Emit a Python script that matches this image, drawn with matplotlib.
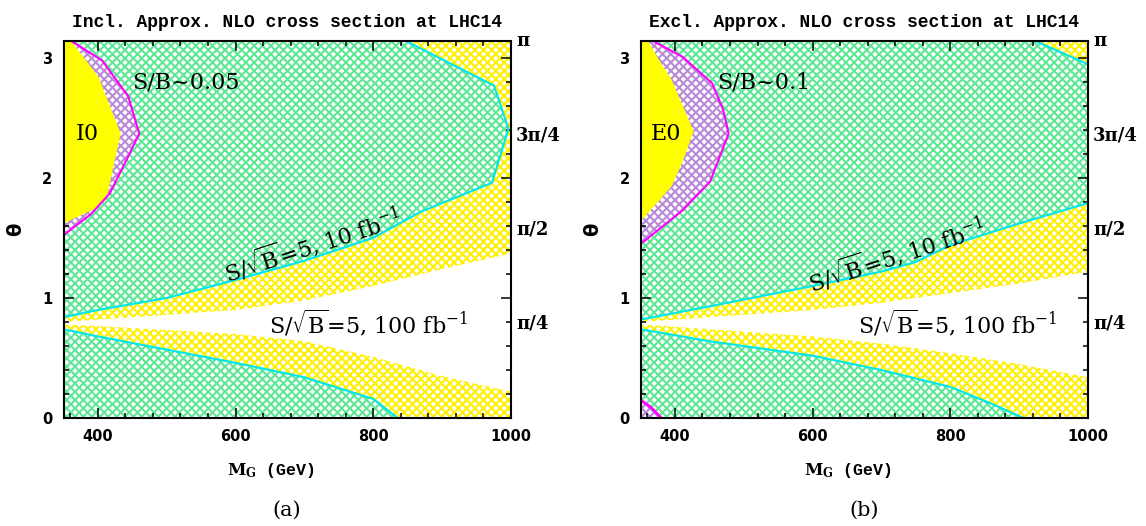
import numpy as np
import matplotlib
matplotlib.use("Agg")
import matplotlib.pyplot as plt
from matplotlib.ticker import MultipleLocator

plt.rcParams['hatch.linewidth'] = 1.5
plt.rcParams['mathtext.fontset'] = 'dejavuserif'

PI = np.pi

# ---- panel (a): inclusive ----
a_cyan10_m = [350, 400, 500, 600, 700, 800, 870, 973, 997, 976, 848]
a_cyan10_th = [0.84, 0.90, 1.00, 1.15, 1.31, 1.50, 1.72, 1.96, 2.41, 2.77, PI]
a_ylow_m = [350, 500, 600, 700, 800, 900, 1000]          # lower edge of upper yellow band
a_ylow_th = [0.80, 0.86, 0.90, 0.98, 1.10, 1.24, 1.37]
a_yup_m = [350, 450, 600, 700, 800, 900, 1000]           # upper edge of lower yellow band
a_yup_th = [0.78, 0.75, 0.70, 0.64, 0.51, 0.35, 0.22]
a_cyanlow_m = [350, 400, 500, 600, 700, 800, 836]
a_cyanlow_th = [0.74, 0.68, 0.57, 0.46, 0.34, 0.16, 0.0]
a_mag_m = [350, 390, 417, 444, 460, 444, 406, 361, 350]
a_mag_th = [1.525, 1.70, 1.87, 2.18, 2.37, 2.68, 2.98, PI, PI]
a_solid_m = [350, 375, 398, 412, 433, 401, 380, 361, 350]
a_solid_th = [1.62, 1.69, 1.75, 1.82, 2.37, 2.84, 3.00, PI, PI]

# ---- panel (b): exclusive ----
b_cyan10_m = [350, 450, 600, 700, 750, 800, 900, 1000]
b_cyan10_th = [0.82, 0.93, 1.10, 1.22, 1.30, 1.44, 1.62, 1.79]
b_corner_m = [1000, 924]
b_corner_th = [2.95, PI]
b_ylow_m = [350, 450, 600, 700, 800, 900, 1000]
b_ylow_th = [0.80, 0.84, 0.90, 0.96, 1.04, 1.12, 1.22]
b_yup_m = [350, 450, 600, 700, 800, 900, 1000]
b_yup_th = [0.78, 0.74, 0.68, 0.62, 0.54, 0.45, 0.34]
b_cyanlow_m = [350, 450, 600, 700, 800, 860, 907]
b_cyanlow_th = [0.74, 0.64, 0.52, 0.40, 0.26, 0.12, 0.0]
b_mag_m = [350, 411, 451, 478, 470, 454, 411, 368, 350]
b_mag_th = [1.45, 1.73, 1.97, 2.37, 2.57, 2.79, 3.01, PI, PI]
b_solid_m = [350, 372, 395, 412, 427, 410, 395, 375, 361, 350]
b_solid_th = [1.64, 1.78, 1.93, 2.15, 2.39, 2.62, 2.82, 3.00, PI, PI]
b_magcorner_m = [350, 365, 380]
b_magcorner_th = [0.15, 0.09, 0.0]

titles = ["Incl. Approx. NLO cross section at LHC14",
          "Excl. Approx. NLO cross section at LHC14"]
sb_labels = ["S/B~0.05", "S/B~0.1"]
blob_labels = ["I0", "E0"]
captions = ["(a)", "(b)"]
pi_ticks = [PI, 3 * PI / 4, PI / 2, PI / 4]
pi_labels = ["π", "3π/4", "π/2", "π/4"]

GREEN = '#5ee896'
YELLOW = '#fff000'
PURPLE = '#b98ad8'
CYAN = '#00e6f0'
MAGENTA = '#ff00ff'


def hatch_fill(ax, x, y, color):
    ax.fill(x, y, facecolor='white', edgecolor=color, hatch='xxxx', linewidth=0, zorder=1)


def draw_panel(ax, cyan10_m, cyan10_th, corner_m, corner_th, ylow_m, ylow_th,
               yup_m, yup_th, cyanlow_m, cyanlow_th, mag_m, mag_th, solid_m, solid_th):
    # upper yellow band (everything above the 100 fb^-1 contour)
    hatch_fill(ax, list(ylow_m) + [1000, 350], list(ylow_th) + [PI, PI], YELLOW)
    # green region above 10 fb^-1 contour
    gx = list(cyan10_m) + list(corner_m) + [350]
    gy = list(cyan10_th) + list(corner_th) + [PI]
    hatch_fill(ax, gx, gy, GREEN)
    # lower yellow band
    hatch_fill(ax, list(yup_m) + [1000, 350], list(yup_th) + [0, 0], YELLOW)
    # lower green region
    hatch_fill(ax, list(cyanlow_m) + [350], list(cyanlow_th) + [0], GREEN)
    # S/B region
    hatch_fill(ax, mag_m, mag_th, PURPLE)
    ax.fill(solid_m, solid_th, facecolor='#ffff00', edgecolor='none', zorder=2)

    ax.plot(cyan10_m, cyan10_th, color=CYAN, lw=1.5, zorder=3)
    if corner_m:
        ax.plot(corner_m, corner_th, color=CYAN, lw=1.5, zorder=3)
    ax.plot(cyanlow_m, cyanlow_th, color=CYAN, lw=1.5, zorder=3)
    ax.plot(mag_m[:-1], mag_th[:-1], color=MAGENTA, lw=1.5, zorder=3)


def style_axes(ax, title):
    ax.set_xlim(350, 1000)
    ax.set_ylim(0, PI)
    ax.xaxis.set_major_locator(MultipleLocator(200))
    ax.xaxis.set_minor_locator(MultipleLocator(40))
    ax.yaxis.set_major_locator(MultipleLocator(1))
    ax.yaxis.set_minor_locator(MultipleLocator(0.2))
    ax.tick_params(which='both', direction='in', top=True, right=True, width=1.1)
    ax.tick_params(which='major', length=7, pad=8)
    ax.tick_params(which='minor', length=3.5)
    for lab in ax.get_xticklabels() + ax.get_yticklabels():
        lab.set_fontweight('bold')
        lab.set_fontsize(10.5)
    for sp in ax.spines.values():
        sp.set_linewidth(1.5)
        sp.set_zorder(5)
    ax.set_title(title, family='Liberation Mono', fontweight='bold', fontsize=13, pad=10)
    ax.set_xlabel(r'$\mathbf{M_G}$ (GeV)', family='Liberation Mono', fontweight='bold',
                  fontsize=12)
    ax.xaxis.set_label_coords(0.463, -0.115)
    ax.set_ylabel('θ', family='DejaVu Sans', fontsize=14, fontweight='bold')
    ax.yaxis.set_label_coords(-0.085, 0.5)
    for t, lab in zip(pi_ticks, pi_labels):
        ax.text(1.012, t, lab, transform=ax.get_yaxis_transform(), ha='left', va='center',
                family='DejaVu Serif', fontweight='bold', fontsize=13)


fig = plt.figure(figsize=(11.46, 5.26), dpi=100)
ax_a = fig.add_axes([0.0555, 0.2053, 0.390, 0.7167])
ax_b = fig.add_axes([0.559, 0.2053, 0.390, 0.7167])

draw_panel(ax_a, a_cyan10_m, a_cyan10_th, [], [], a_ylow_m, a_ylow_th, a_yup_m, a_yup_th,
           a_cyanlow_m, a_cyanlow_th, a_mag_m, a_mag_th, a_solid_m, a_solid_th)
draw_panel(ax_b, b_cyan10_m, b_cyan10_th, b_corner_m, b_corner_th, b_ylow_m, b_ylow_th,
           b_yup_m, b_yup_th, b_cyanlow_m, b_cyanlow_th, b_mag_m, b_mag_th,
           b_solid_m, b_solid_th)
# small S/B corner in panel (b)
hatch_fill(ax_b, b_magcorner_m + [350], b_magcorner_th + [0], PURPLE)
ax_b.plot(b_magcorner_m, b_magcorner_th, color=MAGENTA, lw=2.0, zorder=3)

for ax, title in zip([ax_a, ax_b], titles):
    style_axes(ax, title)

txt = dict(family='DejaVu Serif', fontsize=16, zorder=6)
ax_a.text(528, 2.80, sb_labels[0], ha='center', va='center', **txt)
ax_b.text(529, 2.80, sb_labels[1], ha='center', va='center', **txt)
ax_a.text(385, 2.37, blob_labels[0], ha='center', va='center', **txt)
ax_b.text(387, 2.37, blob_labels[1], ha='center', va='center', **txt)
lab10 = r'S/$\sqrt{\mathrm{B}}$=5, 10 fb$^{-1}$'
lab100 = r'S/$\sqrt{\mathrm{B}}$=5, 100 fb$^{-1}$'
ax_a.text(712, 1.45, lab10, ha='center', va='center', rotation=18, rotation_mode='anchor', **txt)
ax_b.text(722, 1.36, lab10, ha='center', va='center', rotation=18, rotation_mode='anchor', **txt)
ax_a.text(794, 0.79, lab100, ha='center', va='center', **txt)
ax_b.text(811, 0.79, lab100, ha='center', va='center', **txt)

fig.text(0.2505, 0.03, captions[0], ha='center', va='center', family='DejaVu Serif', fontsize=15)
fig.text(0.754, 0.03, captions[1], ha='center', va='center', family='DejaVu Serif', fontsize=15)

fig.savefig('out.png', dpi=100)
